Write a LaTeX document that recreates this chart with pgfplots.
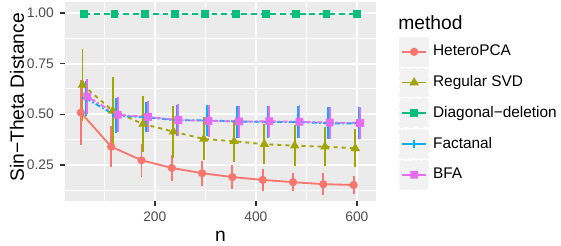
\documentclass[border=0pt]{standalone}
\usepackage{fontspec}
\setmainfont{Liberation Sans}
\usepackage{pgfplots}
\usepackage{pgfplotstable}
\pgfplotsset{compat=1.18}
\definecolor{cHet}{HTML}{F8766D}
\definecolor{cSVD}{HTML}{A3A500}
\definecolor{cDD}{HTML}{00BF7D}
\definecolor{cFac}{HTML}{00B0F6}
\definecolor{cBFA}{HTML}{E76BF3}
\definecolor{panel}{HTML}{EBEBEB}
\definecolor{legkey}{HTML}{F2F2F2}
\definecolor{tickc}{HTML}{333333}
\definecolor{ticklab}{HTML}{4D4D4D}

\pgfdeclareplotmark{boxx}{%
  \pgfpathrectangle{\pgfqpoint{-\pgfplotmarksize}{-\pgfplotmarksize}}{\pgfqpoint{2\pgfplotmarksize}{2\pgfplotmarksize}}%
  \pgfpathmoveto{\pgfqpoint{-\pgfplotmarksize}{-\pgfplotmarksize}}\pgfpathlineto{\pgfqpoint{\pgfplotmarksize}{\pgfplotmarksize}}%
  \pgfpathmoveto{\pgfqpoint{-\pgfplotmarksize}{\pgfplotmarksize}}\pgfpathlineto{\pgfqpoint{\pgfplotmarksize}{-\pgfplotmarksize}}%
  \pgfusepathqstroke}

\pgfplotstableread{
n y e
60 0.508 0.146
120 0.340 0.087
180 0.273 0.068
240 0.235 0.052
300 0.209 0.048
360 0.190 0.047
420 0.176 0.040
480 0.165 0.033
540 0.155 0.040
600 0.151 0.033
}\hetero
\pgfplotstableread{
n y e
60 0.645 0.165
120 0.517 0.152
180 0.452 0.127
240 0.414 0.115
300 0.378 0.093
360 0.367 0.091
420 0.352 0.087
480 0.345 0.087
540 0.340 0.084
600 0.332 0.080
}\svd
\pgfplotstableread{
n y e
60 0.996 0.004
120 0.996 0.004
180 0.996 0.004
240 0.996 0.004
300 0.996 0.004
360 0.996 0.004
420 0.996 0.004
480 0.996 0.004
540 0.996 0.004
600 0.996 0.004
}\diagdel
\pgfplotstableread{
n y e
60 0.579 0.074
120 0.492 0.074
180 0.485 0.062
240 0.470 0.064
300 0.470 0.064
360 0.464 0.066
420 0.462 0.064
480 0.462 0.068
540 0.455 0.066
600 0.455 0.066
}\factanal
\pgfplotstableread{
n y e
60 0.587 0.074
120 0.497 0.074
180 0.487 0.063
240 0.471 0.067
300 0.467 0.064
360 0.464 0.066
420 0.465 0.064
480 0.463 0.068
540 0.459 0.066
600 0.457 0.066
}\bfa

\pgfplotsset{
  ggleg/.style={legend image code/.code={
    \fill[legkey] (0pt,-8pt) rectangle (16pt,8pt);
    \draw[##1, solid, mark repeat=2, mark phase=2] plot coordinates {(1.2pt,0pt) (8pt,0pt) (14.8pt,0pt)};
  }},
  eb/.style={error bars/.cd, y dir=both, y explicit,
    error bar style={draw=#1, color=#1, line width=1.1pt, solid},
    error mark options={draw=#1, color=#1, line width=1.1pt, mark size=1.5pt, solid}},
}

\begin{document}
\begin{tikzpicture}
\begin{axis}[
  at={(0,0)}, anchor=south west,
  scale only axis, width=177.7pt, height=113.7pt,
  xmin=22, xmax=637.6, ymin=0.0725, ymax=1.054,
  axis background/.style={fill=panel},
  axis line style={draw=none},
  xtick={200,400,600}, ytick={0.25,0.5,0.75,1.0},
  minor xtick={100,300,500}, minor ytick={0.125,0.375,0.625,0.875},
  yticklabels={0.25,0.50,0.75,1.00},
  grid=both,
  major grid style={white, line width=1.1pt},
  minor grid style={white, line width=0.55pt},
  tick align=outside, xtick pos=bottom, ytick pos=left,
  major tick length=2.8pt, minor tick length=0pt,
  tick style={tickc, line width=0.8pt},
  ticklabel style={font=\fontsize{7.9}{9}\selectfont, text=ticklab},
  /pgf/number format/assume math mode=true,
  xlabel={n},
  ylabel={Sin−Theta Distance},
  label style={font=\fontsize{11}{13}\selectfont},
  xlabel style={at={(axis description cs:0.5,0)}, anchor=base, yshift=-23.4pt},
  ylabel style={at={(axis description cs:-0.154,0.52)}, anchor=center},
  legend style={at={(axis description cs:1.074,0.826)}, anchor=north west,
    draw=none, fill=none, inner sep=0pt, row sep=0.5pt, column sep=0pt,
    font=\fontsize{8.8}{10}\selectfont,
    nodes={inner sep=0pt, anchor=west}},
  legend cell align=left,
  ggleg,
]
\addplot[cHet, line width=1.05pt, mark=*, mark size=1.8pt, eb=cHet]
  table[x expr=\thisrow{n}-6.4, y=y, y error=e]{\hetero};
\addlegendentry{\hspace{2.3pt}HeteroPCA}
\addplot[cSVD, line width=1.05pt, dash pattern=on 2.3pt off 2.3pt, mark=triangle*, mark size=2.1pt, mark options={solid}, eb=cSVD]
  table[x expr=\thisrow{n}-3.2, y=y, y error=e]{\svd};
\addlegendentry{\hspace{2.3pt}Regular SVD}
\addplot[cDD, line width=1.05pt, dash pattern=on 3.4pt off 2.2pt, mark=square*, mark size=1.7pt, mark options={solid}, eb=cDD]
  table[x=n, y=y, y error=e]{\diagdel};
\addlegendentry{\hspace{2.3pt}Diagonal−deletion}
\addplot[cFac, line width=1.05pt, dash pattern=on 3pt off 1.3pt on 1pt off 1.3pt, mark=+, mark size=2.2pt, mark options={solid}, eb=cFac]
  table[x expr=\thisrow{n}+3.2, y=y, y error=e]{\factanal};
\addlegendentry{\hspace{2.3pt}Factanal}
\addplot[cBFA, line width=1.05pt, dash pattern=on 1pt off 1.3pt on 3pt off 1.3pt, mark=boxx, mark size=1.7pt, mark options={solid}, eb=cBFA]
  table[x expr=\thisrow{n}+6.4, y=y, y error=e]{\bfa};
\addlegendentry{\hspace{2.3pt}BFA}
\end{axis}
\node[anchor=base west, font=\fontsize{11}{13}\selectfont, inner sep=0pt] at (190.3pt,98pt) {method};
\pgfresetboundingbox
\useasboundingbox (-37.1pt,-25.7pt) rectangle (283.5pt,114.8pt);
\end{tikzpicture}
\end{document}
